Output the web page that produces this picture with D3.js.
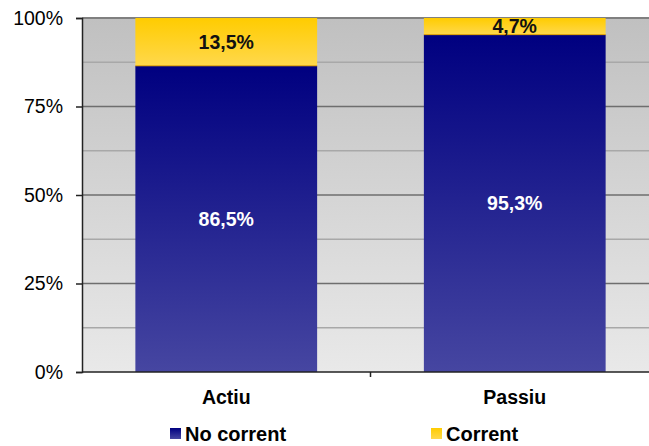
<!DOCTYPE html>
<html>
<head>
<meta charset="utf-8">
<script src="https://cdnjs.cloudflare.com/ajax/libs/d3/7.8.5/d3.min.js"></script>
<style>
body{margin:0;background:#fff;font-family:"Liberation Sans",Arial,sans-serif;}
</style>
</head>
<body>
<script>
// stacked 100% bars
var categories = ['Actiu', 'Passiu'];
var noCorrent = [86.5, 95.3];
var corrent = [13.5, 4.7];
var yTicks = [0, 25, 50, 75, 100];
var gridTicks = [12.5, 25, 37.5, 50, 62.5, 75, 87.5];
var seriesNames = ['No corrent', 'Corrent'];

var width = 649, height = 446,
    plotLeft = 82, plotTop = 18, plotRight = 659, plotBottom = 372;

var svg = d3.select('body').append('svg')
  .attr('width', width)
  .attr('height', height);

var defs = svg.append('defs');
function grad(id, c1, c2){
  var g = defs.append('linearGradient').attr('id', id)
    .attr('x1', 0).attr('y1', 0).attr('x2', 0).attr('y2', 1);
  g.append('stop').attr('offset', '0%').attr('stop-color', c1);
  g.append('stop').attr('offset', '100%').attr('stop-color', c2);
}
grad('bg', '#c0c0c0', '#e9e9e9');
grad('navy', '#000080', '#4646a1');
grad('gold', '#ffcc00', '#ffd84c');

var xScale = d3.scaleBand().domain(categories).range([plotLeft, plotRight]).paddingInner(0.37).paddingOuter(0.185);
var xBand = d3.scaleBand().domain(categories).range([plotLeft, plotRight]);
var yScale = d3.scaleLinear().domain([0, 100]).range([plotBottom, plotTop]);

svg.append('rect')
  .attr('x', plotLeft).attr('y', plotTop)
  .attr('width', plotRight - plotLeft).attr('height', plotBottom - plotTop)
  .attr('fill', 'url(#bg)');

svg.selectAll('.grid').data(gridTicks).enter().append('line')
  .attr('x1', plotLeft).attr('x2', plotRight)
  .attr('y1', function(d){ return yScale(d); })
  .attr('y2', function(d){ return yScale(d); })
  .attr('stroke', function(d){ return d % 25 === 0 ? '#6e6e6e' : '#a8a8a8'; })
  .attr('stroke-width', 1.5);

svg.append('line')
  .attr('x1', plotLeft).attr('x2', plotRight)
  .attr('y1', yScale(100)).attr('y2', yScale(100))
  .attr('stroke', '#808080').attr('stroke-width', 2);

var data = categories.map(function(c, i){
  return {cat: c, nc: noCorrent[i], c: corrent[i]};
});

var bars = svg.selectAll('.bar').data(data).enter().append('g');
bars.append('rect')
  .attr('x', function(d){ return xScale(d.cat); })
  .attr('width', xScale.bandwidth())
  .attr('y', function(d){ return yScale(d.nc); })
  .attr('height', function(d){ return yScale(0) - yScale(d.nc); })
  .attr('fill', 'url(#navy)');
bars.append('rect')
  .attr('x', function(d){ return xScale(d.cat); })
  .attr('width', xScale.bandwidth())
  .attr('y', function(d){ return yScale(100); })
  .attr('height', function(d){ return yScale(d.nc) - yScale(100); })
  .attr('fill', 'url(#gold)');
bars.append('line')
  .attr('x1', function(d){ return xScale(d.cat); })
  .attr('x2', function(d){ return xScale(d.cat) + xScale.bandwidth(); })
  .attr('y1', function(d){ return yScale(d.nc); })
  .attr('y2', function(d){ return yScale(d.nc); })
  .attr('stroke', '#e0a000').attr('stroke-width', 1);

var fmt = function(v){ return v.toFixed(1).replace('.', ',') + '%'; };
bars.append('text')
  .attr('x', function(d){ return xScale(d.cat) + xScale.bandwidth() / 2; })
  .attr('y', function(d){ return yScale(d.nc / 2); })
  .attr('dy', '0.35em')
  .attr('text-anchor', 'middle')
  .attr('fill', '#fff').attr('font-weight', 'bold').attr('font-size', 19.5)
  .text(function(d){ return fmt(d.nc); });
bars.append('text')
  .attr('x', function(d){ return xScale(d.cat) + xScale.bandwidth() / 2; })
  .attr('y', function(d){ return yScale(100 - d.c / 2); })
  .attr('dy', '0.35em')
  .attr('text-anchor', 'middle')
  .attr('fill', '#111').attr('font-weight', 'bold').attr('font-size', 19.5)
  .text(function(d){ return fmt(d.c); });

// y axis
var yAxis = svg.append('g').attr('transform', 'translate(' + plotLeft + ',0)')
  .call(d3.axisLeft(yScale).tickValues(yTicks).tickSize(6).tickPadding(13)
    .tickFormat(function(d){ return d + '%'; }));
yAxis.select('.domain').attr('stroke', '#222').attr('stroke-width', 1.5);
yAxis.selectAll('.tick line').attr('stroke', '#222').attr('stroke-width', 1.5);
yAxis.selectAll('text').attr('font-size', 19.5).attr('fill', '#000')
  .attr('font-family', '"Liberation Sans",Arial,sans-serif');

// x axis
var xAxis = svg.append('g').attr('transform', 'translate(0,' + plotBottom + ')')
  .call(d3.axisBottom(xScale).tickSize(0).tickPadding(18));
xAxis.select('.domain').remove();
xAxis.selectAll('text').attr('font-size', 19.5).attr('font-weight', 'bold').attr('fill', '#000')
  .attr('font-family', '"Liberation Sans",Arial,sans-serif');
svg.append('line').attr('x1', plotLeft).attr('x2', plotRight)
  .attr('y1', plotBottom).attr('y2', plotBottom)
  .attr('stroke', '#222').attr('stroke-width', 1.5);
svg.selectAll('.xt').data([xBand(categories[1])]).enter().append('line')
  .attr('x1', function(d){ return d; }).attr('x2', function(d){ return d; })
  .attr('y1', plotBottom).attr('y2', plotBottom + 5)
  .attr('stroke', '#222').attr('stroke-width', 1.5);

// legend
var legX = [170, 431];
var legFill = ['url(#navy)', 'url(#gold)'];
var leg = svg.selectAll('.leg').data(seriesNames).enter().append('g')
  .attr('transform', function(d, i){ return 'translate(' + legX[i] + ',428)'; });
leg.append('rect').attr('width', 11).attr('height', 11)
  .attr('fill', function(d, i){ return legFill[i]; });
leg.append('text').attr('x', 15).attr('y', 6).attr('dy', '0.35em')
  .attr('font-size', 20).attr('font-weight', 'bold').attr('fill', '#000')
  .text(function(d){ return d; });
</script>
</body>
</html>
